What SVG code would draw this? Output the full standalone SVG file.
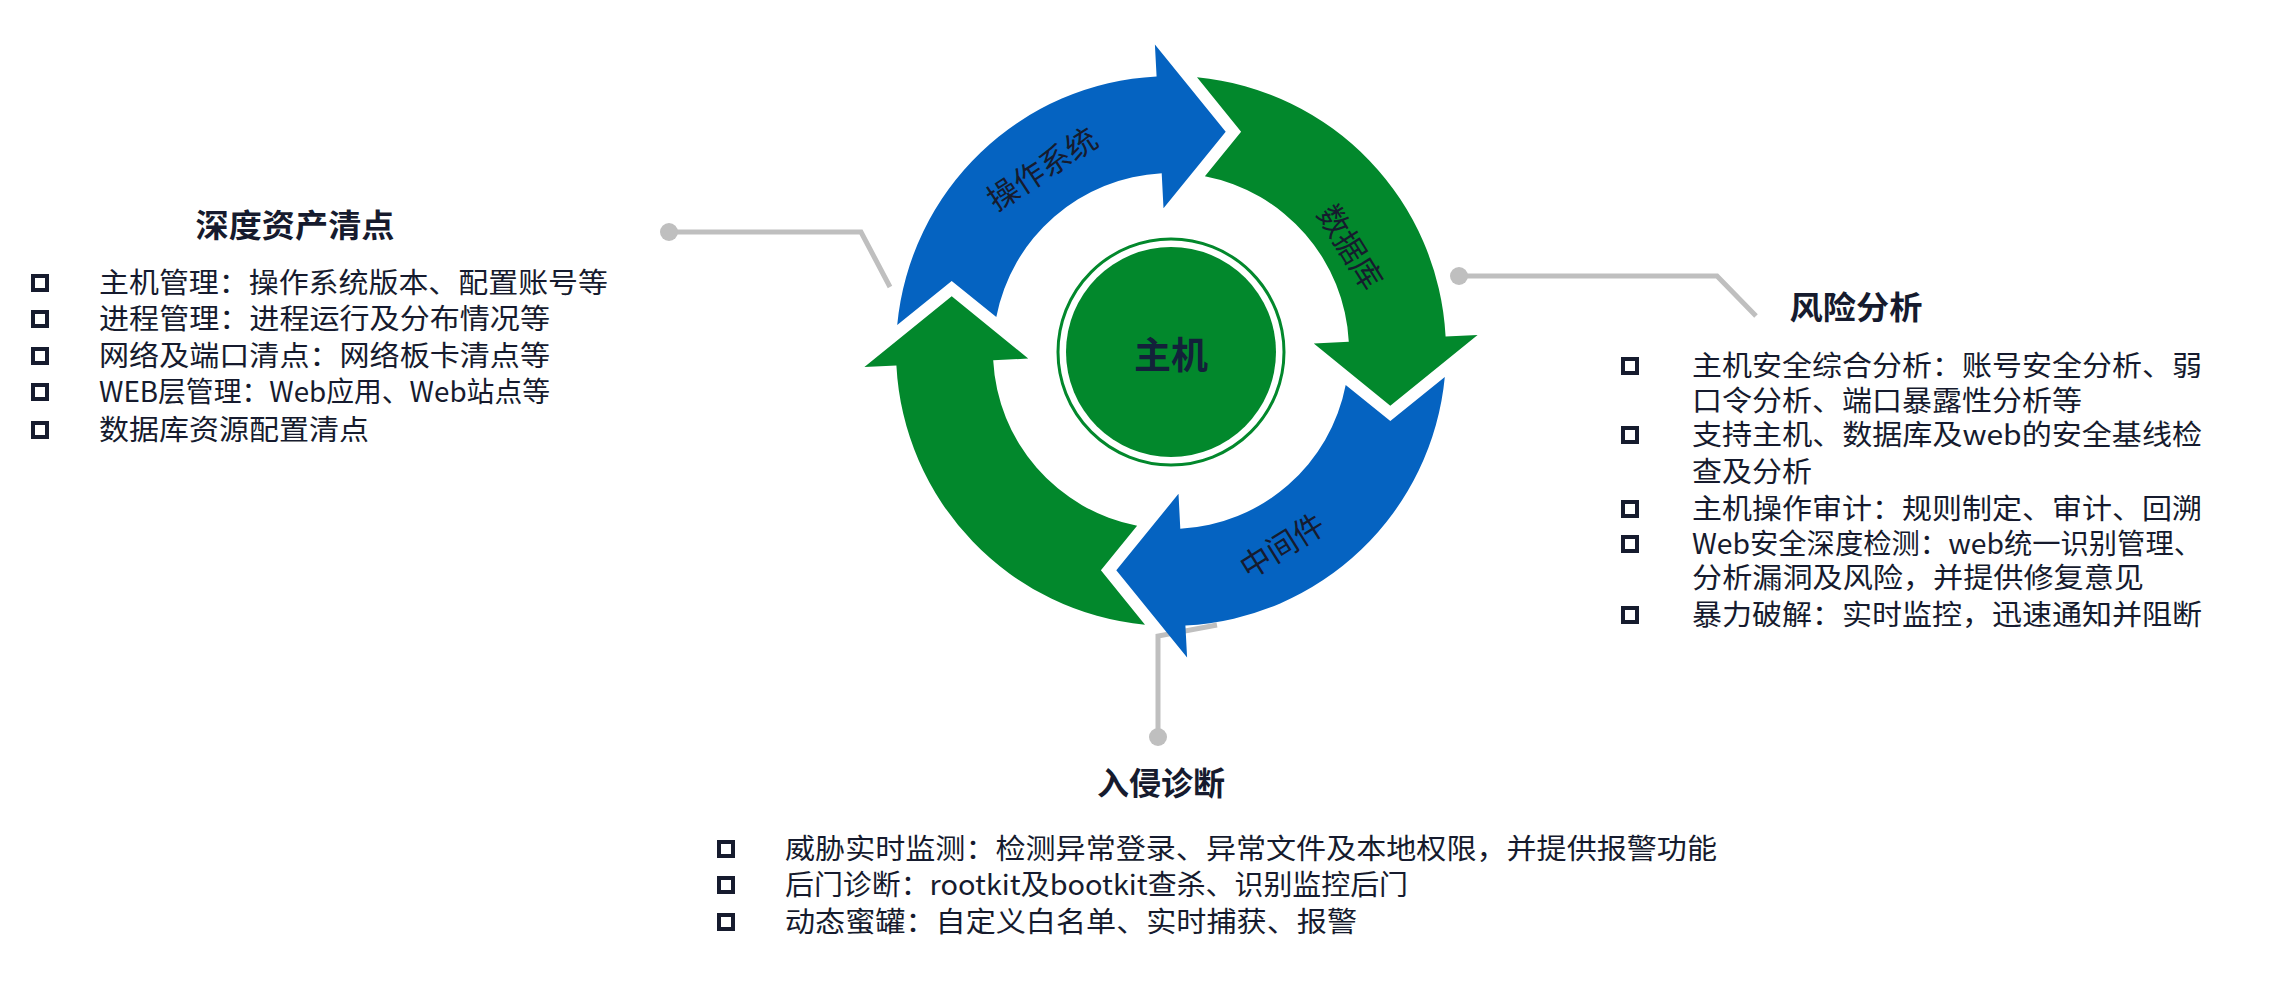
<svg xmlns="http://www.w3.org/2000/svg" width="2276" height="988" viewBox="0 0 2276 988">
<style>
text{font-family:"Noto Sans CJK SC","Noto Sans",sans-serif;fill:#161b2e}
.t{font-size:32px;font-weight:bold;text-anchor:middle}
.b{font-size:28px}
.bx{fill:none;stroke:#161b2e;stroke-width:4}
.cn{fill:none;stroke:#bfbfbf;stroke-width:5}
.dot{fill:#bfbfbf}
.lbl{font-size:31px;text-anchor:middle;dominant-baseline:central;fill:#161b2e}
</style>
<defs>
<path id="arr" d="M-273.8,-26 A275 275 0 0 1 -14.4,-274.6 L-16.1,-306.6 L54.7,-219.3 L-7.5,-142.8 L-9.3,-177.8 A178 178 0 0 0 -174.7,-33.9 L-219.3,-70.1 Z"/>
</defs>
<rect width="2276" height="988" fill="#fff"/>
<g id="connectors">
<polyline class="cn" points="669,232 861,232 890,287"/>
<circle class="dot" cx="669" cy="232" r="9"/>
<polyline class="cn" points="1459,276 1717,276 1756,316"/>
<circle class="dot" cx="1459" cy="276" r="9"/>
<polyline class="cn" points="1158,737 1158,636 1217,625"/>
<circle class="dot" cx="1158" cy="737" r="9"/>
</g>
<g id="cycle" transform="translate(1171,351)">
<g id="arrow-os"><use href="#arr" fill="#0563c1"/></g>
<g id="arrow-db"><use href="#arr" fill="#02882c" transform="rotate(90)"/></g>
<g id="arrow-mw"><use href="#arr" fill="#0563c1" transform="rotate(180)"/></g>
<g id="arrow-left"><use href="#arr" fill="#02882c" transform="rotate(270)"/></g>
</g>
<text class="lbl" transform="translate(1041,167) rotate(-33)">操作系统</text>
<text class="lbl" transform="translate(1352,246) rotate(58)">数据库</text>
<text class="lbl" transform="translate(1281,544) rotate(-32)">中间件</text>
<g id="host">
<circle cx="1171" cy="352" r="113" fill="none" stroke="#02882c" stroke-width="3"/>
<circle cx="1171" cy="352" r="105" fill="#02882c"/>
<text x="1171" y="353" font-size="37" font-weight="bold" text-anchor="middle" dominant-baseline="central" style="fill:#13213a">主机</text>
</g>
<g id="asset">
<text class="t" x="295" y="237" textLength="199" lengthAdjust="spacingAndGlyphs">深度资产清点</text>
<rect class="bx" x="33" y="276" width="14" height="14"/><text class="b" x="99" y="293" textLength="509" lengthAdjust="spacingAndGlyphs">主机管理：操作系统版本、配置账号等</text>
<rect class="bx" x="33" y="312" width="14" height="14"/><text class="b" x="99" y="329" textLength="451" lengthAdjust="spacingAndGlyphs">进程管理：进程运行及分布情况等</text>
<rect class="bx" x="33" y="349" width="14" height="14"/><text class="b" x="99" y="366" textLength="451" lengthAdjust="spacingAndGlyphs">网络及端口清点：网络板卡清点等</text>
<rect class="bx" x="33" y="385" width="14" height="14"/><text class="b" x="99" y="402" textLength="451" lengthAdjust="spacingAndGlyphs">WEB层管理：Web应用、Web站点等</text>
<rect class="bx" x="33" y="423" width="14" height="14"/><text class="b" x="99" y="440" textLength="270" lengthAdjust="spacingAndGlyphs">数据库资源配置清点</text>
</g>
<g id="risk">
<text class="t" x="1856" y="319" textLength="133" lengthAdjust="spacingAndGlyphs">风险分析</text>
<rect class="bx" x="1623" y="359" width="14" height="14"/>
<text class="b" x="1692" y="376" textLength="510" lengthAdjust="spacingAndGlyphs">主机安全综合分析：账号安全分析、弱</text>
<text class="b" x="1692" y="411" textLength="390" lengthAdjust="spacingAndGlyphs">口令分析、端口暴露性分析等</text>
<rect class="bx" x="1623" y="428" width="14" height="14"/>
<text class="b" x="1692" y="445" textLength="510" lengthAdjust="spacingAndGlyphs">支持主机、数据库及web的安全基线检</text>
<text class="b" x="1692" y="482" textLength="120" lengthAdjust="spacingAndGlyphs">查及分析</text>
<rect class="bx" x="1623" y="502" width="14" height="14"/>
<text class="b" x="1692" y="519" textLength="510" lengthAdjust="spacingAndGlyphs">主机操作审计：规则制定、审计、回溯</text>
<rect class="bx" x="1623" y="537" width="14" height="14"/>
<text class="b" x="1692" y="554" textLength="510" lengthAdjust="spacingAndGlyphs">Web安全深度检测：web统一识别管理、</text>
<text class="b" x="1692" y="588" textLength="452" lengthAdjust="spacingAndGlyphs">分析漏洞及风险，并提供修复意见</text>
<rect class="bx" x="1623" y="608" width="14" height="14"/>
<text class="b" x="1692" y="625" textLength="510" lengthAdjust="spacingAndGlyphs">暴力破解：实时监控，迅速通知并阻断</text>
</g>
<g id="intrusion">
<text class="t" x="1161" y="795">入侵诊断</text>
<rect class="bx" x="719" y="842" width="14" height="14"/><text class="b" x="785" y="859" textLength="932" lengthAdjust="spacingAndGlyphs">威胁实时监测：检测异常登录、异常文件及本地权限，并提供报警功能</text>
<rect class="bx" x="719" y="878" width="14" height="14"/><text class="b" x="785" y="895" textLength="623" lengthAdjust="spacingAndGlyphs">后门诊断：rootkit及bootkit查杀、识别监控后门</text>
<rect class="bx" x="719" y="915" width="14" height="14"/><text class="b" x="785" y="932" textLength="572" lengthAdjust="spacingAndGlyphs">动态蜜罐：自定义白名单、实时捕获、报警</text>
</g>
</svg>
